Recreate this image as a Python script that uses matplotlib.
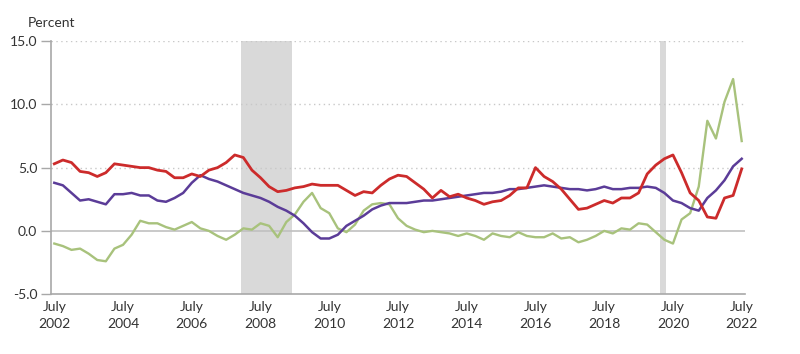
import numpy as np
import matplotlib
matplotlib.use('Agg')
import matplotlib.pyplot as plt

# quarterly readings, July 2002 .. July 2022
start_year = 2002.5
red = [5.3, 5.6, 5.4, 4.7, 4.6, 4.3, 4.6, 5.3, 5.2, 5.1, 5.0, 5.0, 4.8, 4.7, 4.2, 4.2,
       4.5, 4.3, 4.8, 5.0, 5.4, 6.0, 5.8, 4.8, 4.2, 3.5, 3.1, 3.2, 3.4, 3.5, 3.7, 3.6,
       3.6, 3.6, 3.2, 2.8, 3.1, 3.0, 3.6, 4.1, 4.4, 4.3, 3.8, 3.3, 2.6, 3.2, 2.7, 2.9,
       2.6, 2.4, 2.1, 2.3, 2.4, 2.8, 3.4, 3.4, 5.0, 4.3, 3.9, 3.3, 2.5, 1.7, 1.8, 2.1,
       2.4, 2.2, 2.6, 2.6, 3.0, 4.5, 5.2, 5.7, 6.0, 4.6, 3.0, 2.4, 1.1, 1.0, 2.6, 2.8,
       4.9]
purple = [3.8, 3.6, 3.0, 2.4, 2.5, 2.3, 2.1, 2.9, 2.9, 3.0, 2.8, 2.8, 2.4, 2.3, 2.6, 3.0,
          3.8, 4.4, 4.1, 3.9, 3.6, 3.3, 3.0, 2.8, 2.6, 2.3, 1.9, 1.6, 1.2, 0.6, -0.1, -0.6,
          -0.6, -0.3, 0.4, 0.8, 1.2, 1.7, 2.0, 2.2, 2.2, 2.2, 2.3, 2.4, 2.4, 2.5, 2.6, 2.7,
          2.8, 2.9, 3.0, 3.0, 3.1, 3.3, 3.3, 3.4, 3.5, 3.6, 3.5, 3.4, 3.3, 3.3, 3.2, 3.3,
          3.5, 3.3, 3.3, 3.4, 3.4, 3.5, 3.4, 3.0, 2.4, 2.2, 1.8, 1.6, 2.6, 3.2, 4.0, 5.1,
          5.7]
green = [-1.0, -1.2, -1.5, -1.4, -1.8, -2.3, -2.4, -1.4, -1.1, -0.3, 0.8, 0.6, 0.6, 0.3, 0.1, 0.4,
         0.7, 0.2, 0.0, -0.4, -0.7, -0.3, 0.2, 0.1, 0.6, 0.4, -0.5, 0.7, 1.3, 2.3, 3.0, 1.8,
         1.4, 0.2, -0.1, 0.5, 1.6, 2.1, 2.2, 2.1, 1.0, 0.4, 0.1, -0.1, 0.0, -0.1, -0.2, -0.4,
         -0.2, -0.4, -0.7, -0.2, -0.4, -0.5, -0.1, -0.4, -0.5, -0.5, -0.2, -0.6, -0.5, -0.9, -0.7, -0.4,
         0.0, -0.2, 0.2, 0.1, 0.6, 0.5, -0.1, -0.7, -1.0, 0.9, 1.4, 3.5, 8.7, 7.3, 10.2, 12.0,
         7.1]
recessions = [(2007.92, 2009.42), (2020.12, 2020.3)]
tick_years = [2002, 2004, 2006, 2008, 2010, 2012, 2014, 2016, 2018, 2020, 2022]

t = start_year + np.arange(len(red)) * 0.25

plt.rcParams['font.family'] = ['Lato', 'DejaVu Sans']
fig = plt.figure(figsize=(8, 3.54), dpi=100)
ax = fig.add_axes([0.064, 0.169, 0.867, 0.715])

for r0, r1 in recessions:
    ax.axvspan(r0, r1, color='#d9d9d9', lw=0, zorder=0)

for yv in [5, 10, 15]:
    ax.axhline(yv, color='#c8c8c8', lw=1, ls=(0, (1, 2.5)), zorder=1)
ax.axhline(0, color='#c0c0c0', lw=1.2, zorder=1)

ax.plot(t, green, color='#a8c27c', lw=1.7, zorder=3)
ax.plot(t, purple, color='#5b3c98', lw=1.8, zorder=4)
ax.plot(t, red, color='#cc2b2b', lw=2.0, zorder=5)

ax.set_xlim(2002.41, 2022.59)
ax.set_ylim(-5, 15)
ax.set_yticks([-5, 0, 5, 10, 15])
ax.set_yticklabels(['-5.0', '0.0', '5.0', '10.0', '15.0'])
ax.set_xticks([y + 0.5 for y in tick_years])
ax.set_xticklabels(['July\n%d' % y for y in tick_years], linespacing=1.5)

for s in ['top', 'right']:
    ax.spines[s].set_visible(False)
for s in ['left', 'bottom']:
    ax.spines[s].set_color('#a8a8a8')
    ax.spines[s].set_linewidth(1.2)
ax.tick_params(axis='y', length=7, width=1, color='#a8a8a8', labelsize=10, labelcolor='#333333', pad=3)
ax.tick_params(axis='x', length=0, labelsize=10, labelcolor='#333333', pad=5)

fig.text(0.035, 0.935, 'Percent', fontsize=10, color='#333333', va='center')

fig.savefig('out.png', dpi=100, facecolor='white')
